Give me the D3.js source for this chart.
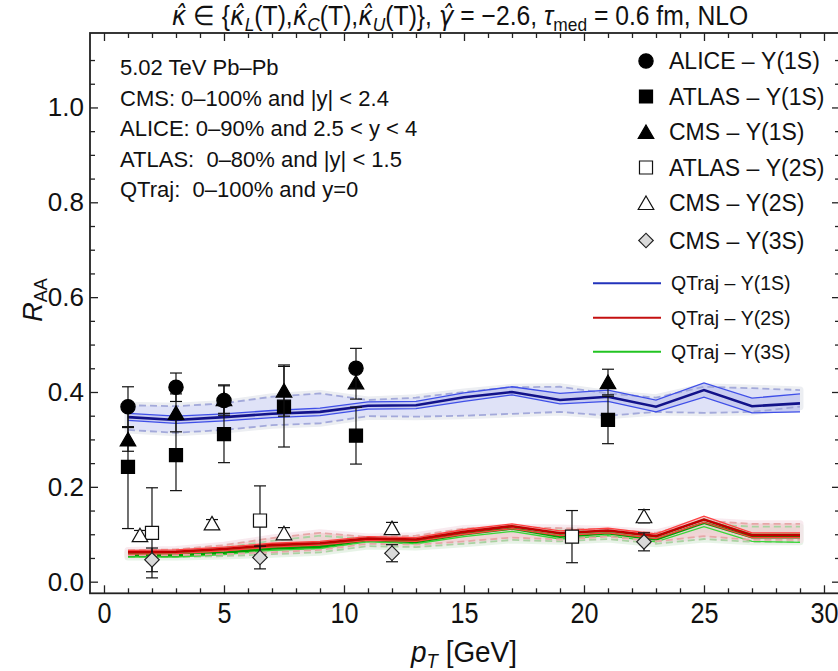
<!DOCTYPE html>
<html><head><meta charset="utf-8">
<script src="https://cdn.jsdelivr.net/npm/d3@7"></script>
<style>
body{margin:0;background:#fff;}
svg{display:block;font-family:"Liberation Sans",Arial,sans-serif;}
text{white-space:pre;}
</style></head>
<body><svg id="c" width="838" height="671"></svg>
<script>
// ---------- data ----------
const pT = [1,3,5,7,9,11,13,15,17,19,21,23,25,27,29];

// QTraj Y(1S)
const c1S   = [0.347,0.341,0.347,0.354,0.358,0.371,0.372,0.389,0.400,0.383,0.390,0.369,0.404,0.370,0.376];
const lo1S  = [0.340,0.334,0.339,0.346,0.350,0.364,0.365,0.380,0.394,0.375,0.380,0.358,0.389,0.356,0.358];
const hi1S  = [0.355,0.349,0.354,0.361,0.366,0.379,0.380,0.398,0.411,0.397,0.404,0.383,0.419,0.387,0.396];
const dlo1S = [0.320,0.314,0.320,0.330,0.334,0.349,0.348,0.350,0.354,0.358,0.350,0.358,0.356,0.358,0.369];
const dhi1S = [0.372,0.370,0.376,0.390,0.397,0.383,0.388,0.400,0.410,0.411,0.397,0.388,0.411,0.408,0.404];

// QTraj Y(2S)
const c2S   = [0.062,0.063,0.069,0.077,0.081,0.091,0.089,0.105,0.117,0.102,0.108,0.096,0.131,0.098,0.098];
const lo2S  = [0.058,0.059,0.065,0.073,0.077,0.087,0.085,0.100,0.112,0.097,0.103,0.091,0.125,0.093,0.093];
const hi2S  = [0.066,0.067,0.073,0.081,0.085,0.095,0.093,0.110,0.122,0.107,0.113,0.101,0.138,0.103,0.103];
const dlo2S = [0.056,0.056,0.058,0.062,0.067,0.080,0.078,0.085,0.093,0.089,0.095,0.085,0.096,0.088,0.088];
const dhi2S = [0.066,0.068,0.077,0.092,0.103,0.094,0.097,0.112,0.115,0.113,0.110,0.103,0.128,0.122,0.122];

// QTraj Y(3S)
const c3S   = [0.056,0.056,0.061,0.070,0.074,0.088,0.084,0.100,0.112,0.095,0.102,0.089,0.124,0.094,0.094];
const lo3S  = [0.052,0.052,0.057,0.066,0.070,0.084,0.080,0.095,0.106,0.090,0.097,0.084,0.116,0.085,0.083];
const hi3S  = [0.060,0.060,0.065,0.074,0.078,0.092,0.088,0.105,0.118,0.100,0.107,0.094,0.132,0.100,0.100];
const dlo3S = [0.052,0.052,0.054,0.058,0.062,0.075,0.073,0.080,0.088,0.085,0.090,0.080,0.090,0.084,0.084];
const dhi3S = [0.061,0.063,0.072,0.086,0.097,0.090,0.092,0.107,0.110,0.108,0.105,0.098,0.122,0.116,0.116];

// Experimental data
const alice1S_x = [1,3,5,10.5];
const alice1S_y = [0.369,0.410,0.382,0.450];
const alice1S_e = [0.042,0.030,0.031,0.042];

const atlas1S_x = [1,3,5,7.5,10.5,21];
const atlas1S_y = [0.242,0.267,0.311,0.369,0.308,0.341];
const atlas1S_e = [0.130,0.075,0.060,0.085,0.060,0.050];

const cms1S_x = [1,3,5,7.5,10.5,21];
const cms1S_y = [0.300,0.356,0.385,0.403,0.420,0.421];
const cms1S_e = [0.025,0.040,0.030,0.054,0.035,0.027];

const atlas2S_x = [2,6.5,19.5];
const atlas2S_y = [0.103,0.129,0.095];
const atlas2S_e = [0.095,0.073,0.055];

const cms2S_x = [1.5,4.5,7.5,12,22.5];
const cms2S_y = [0.098,0.123,0.102,0.113,0.138];
const cms2S_e = [0.010,0.008,0.012,0.012,0.014];

const cms3S_x = [2,6.5,12,22.5];
const cms3S_y = [0.046,0.051,0.060,0.084];
const cms3S_e = [0.025,0.024,0.018,0.019];

const xMajor = [0,5,10,15,20,25,30];
const yMajor = [0,0.2,0.4,0.6,0.8,1.0];

const infoLines = ["5.02 TeV Pb\u2013Pb","CMS: 0\u2013100% and |y| < 2.4","ALICE: 0\u201390% and 2.5 < y < 4","ATLAS:  0\u201380% and |y| < 1.5","QTraj:  0\u2013100% and y=0"];
const legendMarkerLabels = ["ALICE \u2013 \u03A5(1S)","ATLAS \u2013 \u03A5(1S)","CMS \u2013 \u03A5(1S)","ATLAS \u2013 \u03A5(2S)","CMS \u2013 \u03A5(2S)","CMS \u2013 \u03A5(3S)"];
const legendLineLabels = ["QTraj \u2013 \u03A5(1S)","QTraj \u2013 \u03A5(2S)","QTraj \u2013 \u03A5(3S)"];

// ---------- scales ----------
const L=90, R=840, T=33, B=593.3;
const x = d3.scaleLinear().domain([-0.583,30.667]).range([L,R]);
const y = d3.scaleLinear().domain([-0.0245,1.157]).range([B,T]);

const svg = d3.select("#c");
svg.append("defs").append("clipPath").attr("id","clip")
  .append("rect").attr("x",L).attr("y",T).attr("width",R-L).attr("height",B-T);
const plot = svg.append("g").attr("clip-path","url(#clip)");

const idx = d3.range(pT.length);
const area = (lo,hi)=>d3.area().x(i=>x(pT[i])).y0(i=>y(lo[i])).y1(i=>y(hi[i]))(idx);
const line = (v)=>d3.line().x(i=>x(pT[i])).y(i=>y(v[i]))(idx);

function band(o){
  plot.append("path").attr("d",area(o.dlo,o.dhi)).attr("fill",o.halo).attr("stroke",o.halo).attr("stroke-width",7).attr("stroke-linejoin","round");
  plot.append("path").attr("d",area(o.dlo,o.dhi)).attr("fill",o.fill1);
  plot.append("path").attr("d",area(o.lo,o.hi)).attr("fill",o.fill2);
}
function lines(o){
  [o.dlo,o.dhi].forEach(v=>plot.append("path").attr("d",line(v)).attr("fill","none")
    .attr("stroke",o.dash).attr("stroke-width",1.8).attr("stroke-dasharray","7,4"));
  [o.lo,o.hi].forEach(v=>plot.append("path").attr("d",line(v)).attr("fill","none")
    .attr("stroke",o.thin).attr("stroke-width",1.3));
  plot.append("path").attr("d",line(o.c)).attr("fill","none").attr("stroke",o.main).attr("stroke-width",2.6);
}
const s1 = {c:c1S,lo:lo1S,hi:hi1S,dlo:dlo1S,dhi:dhi1S,halo:"#eceef2",fill1:"#dfe2f7",fill2:"#c9cdf1",dash:"#a3a9da",thin:"#3f4fe8",main:"#12128a"};
const s3 = {c:c3S,lo:lo3S,hi:hi3S,dlo:dlo3S,dhi:dhi3S,halo:"rgba(225,240,225,0.8)",fill1:"rgba(190,230,190,0.55)",fill2:"rgba(150,215,150,0.6)",dash:"#a9d3a2",thin:"#39d639",main:"#00a000"};
const s2 = {c:c2S,lo:lo2S,hi:hi2S,dlo:dlo2S,dhi:dhi2S,halo:"rgba(245,225,232,0.7)",fill1:"rgba(240,195,195,0.45)",fill2:"rgba(235,160,160,0.45)",dash:"#e6a7a7",thin:"#ff4040",main:"#c00000"};
band(s1); band(s3); band(s2);
lines(s1); lines(s3); lines(s2);

// ---------- markers ----------
const sym = {
  circle: d3.symbol().type(d3.symbolCircle).size(160)(),
  square: d3.symbol().type(d3.symbolSquare).size(170)(),
  tri: d3.symbol().type(d3.symbolTriangle).size(105)(),
  diamond: d3.symbol().type(d3.symbolSquare).size(105)()
};
function series(xs,ys,es,shape,fill,stroke){
  const g = svg.append("g");
  xs.forEach((xv,i)=>{
    const cx=x(xv), y0=y(ys[i]-es[i]), y1=y(ys[i]+es[i]);
    g.append("line").attr("x1",cx).attr("x2",cx).attr("y1",y0).attr("y2",y1).attr("stroke","#111").attr("stroke-width",1.2);
    [y0,y1].forEach(yy=>g.append("line").attr("x1",cx-6).attr("x2",cx+6).attr("y1",yy).attr("y2",yy).attr("stroke","#111").attr("stroke-width",1.2));
  });
  xs.forEach((xv,i)=>{
    const off = shape==="tri"?2:0;
    g.append("path").attr("d",sym[shape])
      .attr("transform",`translate(${x(xv)},${y(ys[i])+off})`+(shape==="diamond"?" rotate(45)":""))
      .attr("fill",fill).attr("stroke",stroke).attr("stroke-width",1.2);
  });
}
series(atlas2S_x,atlas2S_y,atlas2S_e,"square","#fff","#111");
series(cms2S_x,cms2S_y,cms2S_e,"tri","#fff","#111");
series(cms3S_x,cms3S_y,cms3S_e,"diamond","#d9d9d9","#222");
series(atlas1S_x,atlas1S_y,atlas1S_e,"square","#000","#000");
series(cms1S_x,cms1S_y,cms1S_e,"tri","#000","#000");
series(alice1S_x,alice1S_y,alice1S_e,"circle","#000","#000");

// ---------- axes ----------
const axG = svg.append("g").attr("stroke-width",1.3);
const xMinor = d3.range(0,31).filter(v=>v%5!==0);
const yMinor = d3.range(0,23).map(i=>+(i*0.05).toFixed(2)).filter(v=>Math.round(v*100)%20!==0);

function styleAxis(g){ g.select(".domain").remove(); g.selectAll("line").attr("stroke","#222"); }
axG.append("g").attr("transform",`translate(0,${B})`)
  .call(d3.axisBottom(x).tickValues(xMajor).tickSize(-8).tickPadding(8).tickFormat(d3.format("d")))
  .call(styleAxis)
  .call(g=>g.selectAll("text").attr("font-size",30).attr("fill","#111").attr("font-family","Liberation Sans, Arial, sans-serif").attr("transform","scale(0.84,1)"));
axG.append("g").attr("transform",`translate(0,${B})`)
  .call(d3.axisBottom(x).tickValues(xMinor).tickSize(-5).tickFormat("")).call(styleAxis);
axG.append("g").attr("transform",`translate(0,${T})`)
  .call(d3.axisTop(x).tickValues(xMajor).tickSize(-8).tickFormat("")).call(styleAxis);
axG.append("g").attr("transform",`translate(0,${T})`)
  .call(d3.axisTop(x).tickValues(xMinor).tickSize(-5).tickFormat("")).call(styleAxis);
axG.append("g").attr("transform",`translate(${L},0)`)
  .call(d3.axisLeft(y).tickValues(yMajor).tickSize(-8).tickPadding(6).tickFormat(d3.format(".1f")))
  .call(styleAxis)
  .call(g=>g.selectAll("text").attr("font-size",26).attr("fill","#111").attr("font-family","Liberation Sans, Arial, sans-serif"));
axG.append("g").attr("transform",`translate(${L},0)`)
  .call(d3.axisLeft(y).tickValues(yMinor).tickSize(-5).tickFormat("")).call(styleAxis);
axG.append("g").attr("transform",`translate(${R},0)`)
  .call(d3.axisRight(y).tickValues(yMajor).tickSize(-8).tickFormat("")).call(styleAxis);
axG.append("g").attr("transform",`translate(${R},0)`)
  .call(d3.axisRight(y).tickValues(yMinor).tickSize(-5).tickFormat("")).call(styleAxis);
svg.append("rect").attr("x",L).attr("y",T).attr("width",R-L).attr("height",B-T)
  .attr("fill","none").attr("stroke","#222").attr("stroke-width",1.8);

// ---------- texts ----------
function fitX(sel,cx,width){
  const bb = sel.node().getBBox();
  const s = width/bb.width;
  sel.attr("transform",`translate(${cx},0) scale(${s},1) translate(${-cx},0)`);
}
const title = svg.append("text").attr("x",460).attr("y",25).attr("text-anchor","middle").attr("font-size",27).attr("fill","#111");
const tparts = [
  ["\u03BA\u0302",1,0,1],[" \u2208 {",0,0],["\u03BA\u0302",1,0,1],["L",1,1],["(T),",0,-1],
  ["\u03BA\u0302",1,0,1],["C",1,1],["(T),",0,-1],["\u03BA\u0302",1,0,1],["U",1,1],["(T)}, ",0,-1],
  ["\u03B3\u0302",1,0,1],[" = \u22122.6, ",0,0],["\u03C4",1,0],["med",0,1],[" = 0.6 fm, NLO",0,-1]
];
tparts.forEach(p=>{
  const t = title.append("tspan").text(p[0]);
  if(p[1]) t.attr("font-style","italic");
  if(p[3]) t.attr("font-family","DejaVu Sans");
  if(p[2]===1) t.attr("dy",6).attr("font-size",19);
  if(p[2]===-1) t.attr("dy",-6);
});
fitX(title,459.5,577);

const xl = svg.append("text").attr("x",464).attr("y",662).attr("text-anchor","middle").attr("font-size",30).attr("fill","#111");
xl.append("tspan").attr("font-style","italic").text("p");
xl.append("tspan").attr("font-style","italic").attr("font-size",20).attr("dy",6).text("T");
xl.append("tspan").attr("dy",-6).text(" [GeV]");
fitX(xl,464,107);

const yl = svg.append("text").attr("transform","translate(42,300) rotate(-90)").attr("text-anchor","middle").attr("font-size",27).attr("fill","#111");
yl.append("tspan").attr("font-style","italic").text("R");
yl.append("tspan").attr("font-size",18).attr("dy",5).text("AA");

const infoY = [75,105.5,136,166.5,197];
svg.append("g").selectAll("text").data(infoLines).join("text")
  .attr("x",120).attr("y",(d,i)=>infoY[i]).attr("font-size",22).attr("fill","#111").text(d=>d);

const legY = [61,96.5,132,167.5,203,240.5];
const legShapes = [["circle","#000","#000"],["square","#000","#000"],["tri","#000","#000"],["square","#fff","#111"],["tri","#fff","#111"],["diamond","#d9d9d9","#222"]];
const lg = svg.append("g");
legendMarkerLabels.forEach((lab,i)=>{
  const [sh,f,s] = legShapes[i];
  lg.append("path").attr("d",sym[sh])
    .attr("transform",`translate(646,${legY[i]+(sh==="tri"?2:0)})`+(sh==="diamond"?" rotate(45)":""))
    .attr("fill",f).attr("stroke",s).attr("stroke-width",1.2);
  lg.append("text").attr("x",669).attr("y",legY[i]+8).attr("font-size",23).attr("fill","#111").text(lab);
});
const legLY = [283.3,317.7,351.7];
const legLC = ["#2233bb","#c41010","#22c422"];
legendLineLabels.forEach((lab,i)=>{
  lg.append("line").attr("x1",593).attr("x2",661).attr("y1",legLY[i]).attr("y2",legLY[i]).attr("stroke",legLC[i]).attr("stroke-width",2);
  lg.append("text").attr("x",671).attr("y",legLY[i]+7).attr("font-size",19.5).attr("fill","#111").text(lab);
});
</script></body></html>
